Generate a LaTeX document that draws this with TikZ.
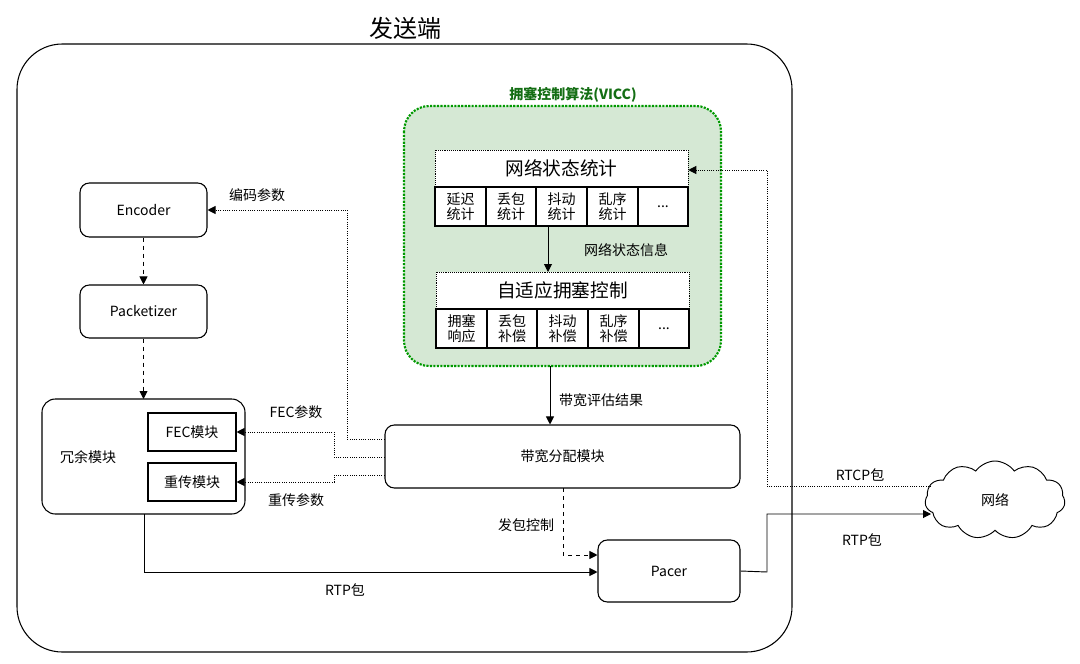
\documentclass[tikz,border=0pt]{standalone}
\usepackage{fontspec}
\setmainfont{Noto Sans CJK SC}
\usetikzlibrary{arrows.meta,shapes.symbols}
\definecolor{gfill}{RGB}{213,232,212}
\definecolor{gline}{RGB}{0,153,0}
\definecolor{gtext}{RGB}{20,110,20}
\begin{document}
\begin{tikzpicture}[x=0.75pt,y=-0.75pt,
 box/.style={draw,line width=0.8pt,rounded corners=7pt,fill=white,font=\fontsize{10.5}{12}\selectfont},
 cell/.style={draw,line width=0.8pt,fill=white,font=\fontsize{10.5}{11.5}\selectfont,align=center},
 hdr/.style={draw,densely dotted,fill=white,font=\fontsize{14}{15}\selectfont},
 lbl/.style={font=\fontsize{10.5}{12}\selectfont},
 arr/.style={-{Triangle[length=6pt,width=6pt]},line width=0.7pt},
 dot/.style={arr,densely dotted}, dsh/.style={arr,dashed}]
\useasboundingbox (0,0) rectangle (1080,663);
\draw[line width=0.8pt,rounded corners=34pt] (17,44) rectangle (792,652);
\node[font=\fontsize{18}{20}\selectfont] (title) at (405,28) {发送端};
% green
\draw[gline,line width=1.6pt,densely dotted,fill=gfill,rounded corners=19pt] (404,106) rectangle (721,366);
\coordinate (gbot) at (550,366);
\node[gtext,font=\bfseries\fontsize{10.5}{12}\selectfont] (gt) at (573,95) {拥塞控制算法(VICC)};
\node[hdr,minimum width=253*0.75pt,minimum height=37*0.75pt] (h1) at (561.5,168.5) {网络状态统计};
\foreach \a/\b/\t [count=\i] in {435/486/{延迟\\统计},486/536/{丢包\\统计},536/587/{抖动\\统计},587/638/{乱序\\统计},638/688/{...}}
 \node[cell,minimum width=(\b-\a)*0.75pt,minimum height=39*0.75pt,inner sep=0pt] (s\i) at ({(\a+\b)/2},206.5) {\t};
\node[hdr,minimum width=253*0.75pt,minimum height=37*0.75pt] (h2) at (562.5,290.5) {自适应拥塞控制};
\foreach \a/\b/\t [count=\i] in {436/487/{拥塞\\响应},487/537/{丢包\\补偿},537/588/{抖动\\补偿},588/639/{乱序\\补偿},639/689/{...}}
 \node[cell,minimum width=(\b-\a)*0.75pt,minimum height=39*0.75pt,inner sep=0pt] (c\i) at ({(\a+\b)/2},328.5) {\t};
\draw[arr] (548,226) -- (548,272);
\node[lbl] (l1) at (626,250) {网络状态信息};
% boxes
\node[box,minimum width=355*0.75pt,minimum height=63*0.75pt] (bw) at (562.5,456.5) {带宽分配模块};
\draw[arr] (gbot) -- (bw.north -| gbot);
\node[lbl] (l2) at (601,400) {带宽评估结果};
\node[box,minimum width=127*0.75pt,minimum height=54*0.75pt] (enc) at (143.5,210) {Encoder};
\node[box,minimum width=127*0.75pt,minimum height=53*0.75pt] (pkt) at (143.5,311.5) {Packetizer};
\draw[line width=0.8pt,rounded corners=10pt] (42,399) rectangle (245,514);
\coordinate (red) at (143.5,399);
\coordinate (redb) at (144,514);
\node[lbl] (rl) at (88,457) {冗余模块};
\node[cell,minimum width=88*0.75pt,minimum height=38*0.75pt] (fec) at (192,432) {FEC模块};
\node[cell,minimum width=88*0.75pt,minimum height=38*0.75pt] (rt) at (192,482) {重传模块};
\draw[dsh] (enc) -- (pkt);
\draw[dsh] (pkt) -- (red);
\draw[dot] (bw.west |- 0,439) -- (347,439) -- (347,210) -- (enc.east);
\node[lbl] (l3) at (257,195) {编码参数};
\draw[dot] (bw.west |- 0,457) -- (334,457) -- (334,432) -- (fec.east);
\node[lbl] (l4) at (296,412) {FEC参数};
\draw[dot] (bw.west |- 0,475) -- (334,475) -- (334,482) -- (rt.east);
\node[lbl] (l5) at (296,500) {重传参数};
\node[box,minimum width=142*0.75pt,minimum height=62*0.75pt] (pacer) at (669,571) {Pacer};
\draw[dsh] (563,488) -- (563,555) -- (pacer.west |- 0,555);
\node[lbl] (l6) at (526,525) {发包控制};
\draw[arr] (redb) -- (144,572) -- (pacer.west |- 0,572);
\node[lbl] (l7) at (345,590) {RTP包};
\node[cloud,draw,cloud puffs=11,cloud puff arc=110,aspect=2,minimum width=140*0.75pt,minimum height=78*0.75pt,lbl,line width=0.7pt] (net) at (995,500) {网络};
\draw[arr] (pacer.east) -- (767,572) -- (767,514) -- (931,514);
\node[lbl] (l8) at (862,540) {RTP包};
\draw[dot] (931,486) -- (767,486) -- (767,170) -- (h1.east |- 0,170);
\node[lbl] (l9) at (860,475) {RTCP包};
\end{tikzpicture}
\end{document}
